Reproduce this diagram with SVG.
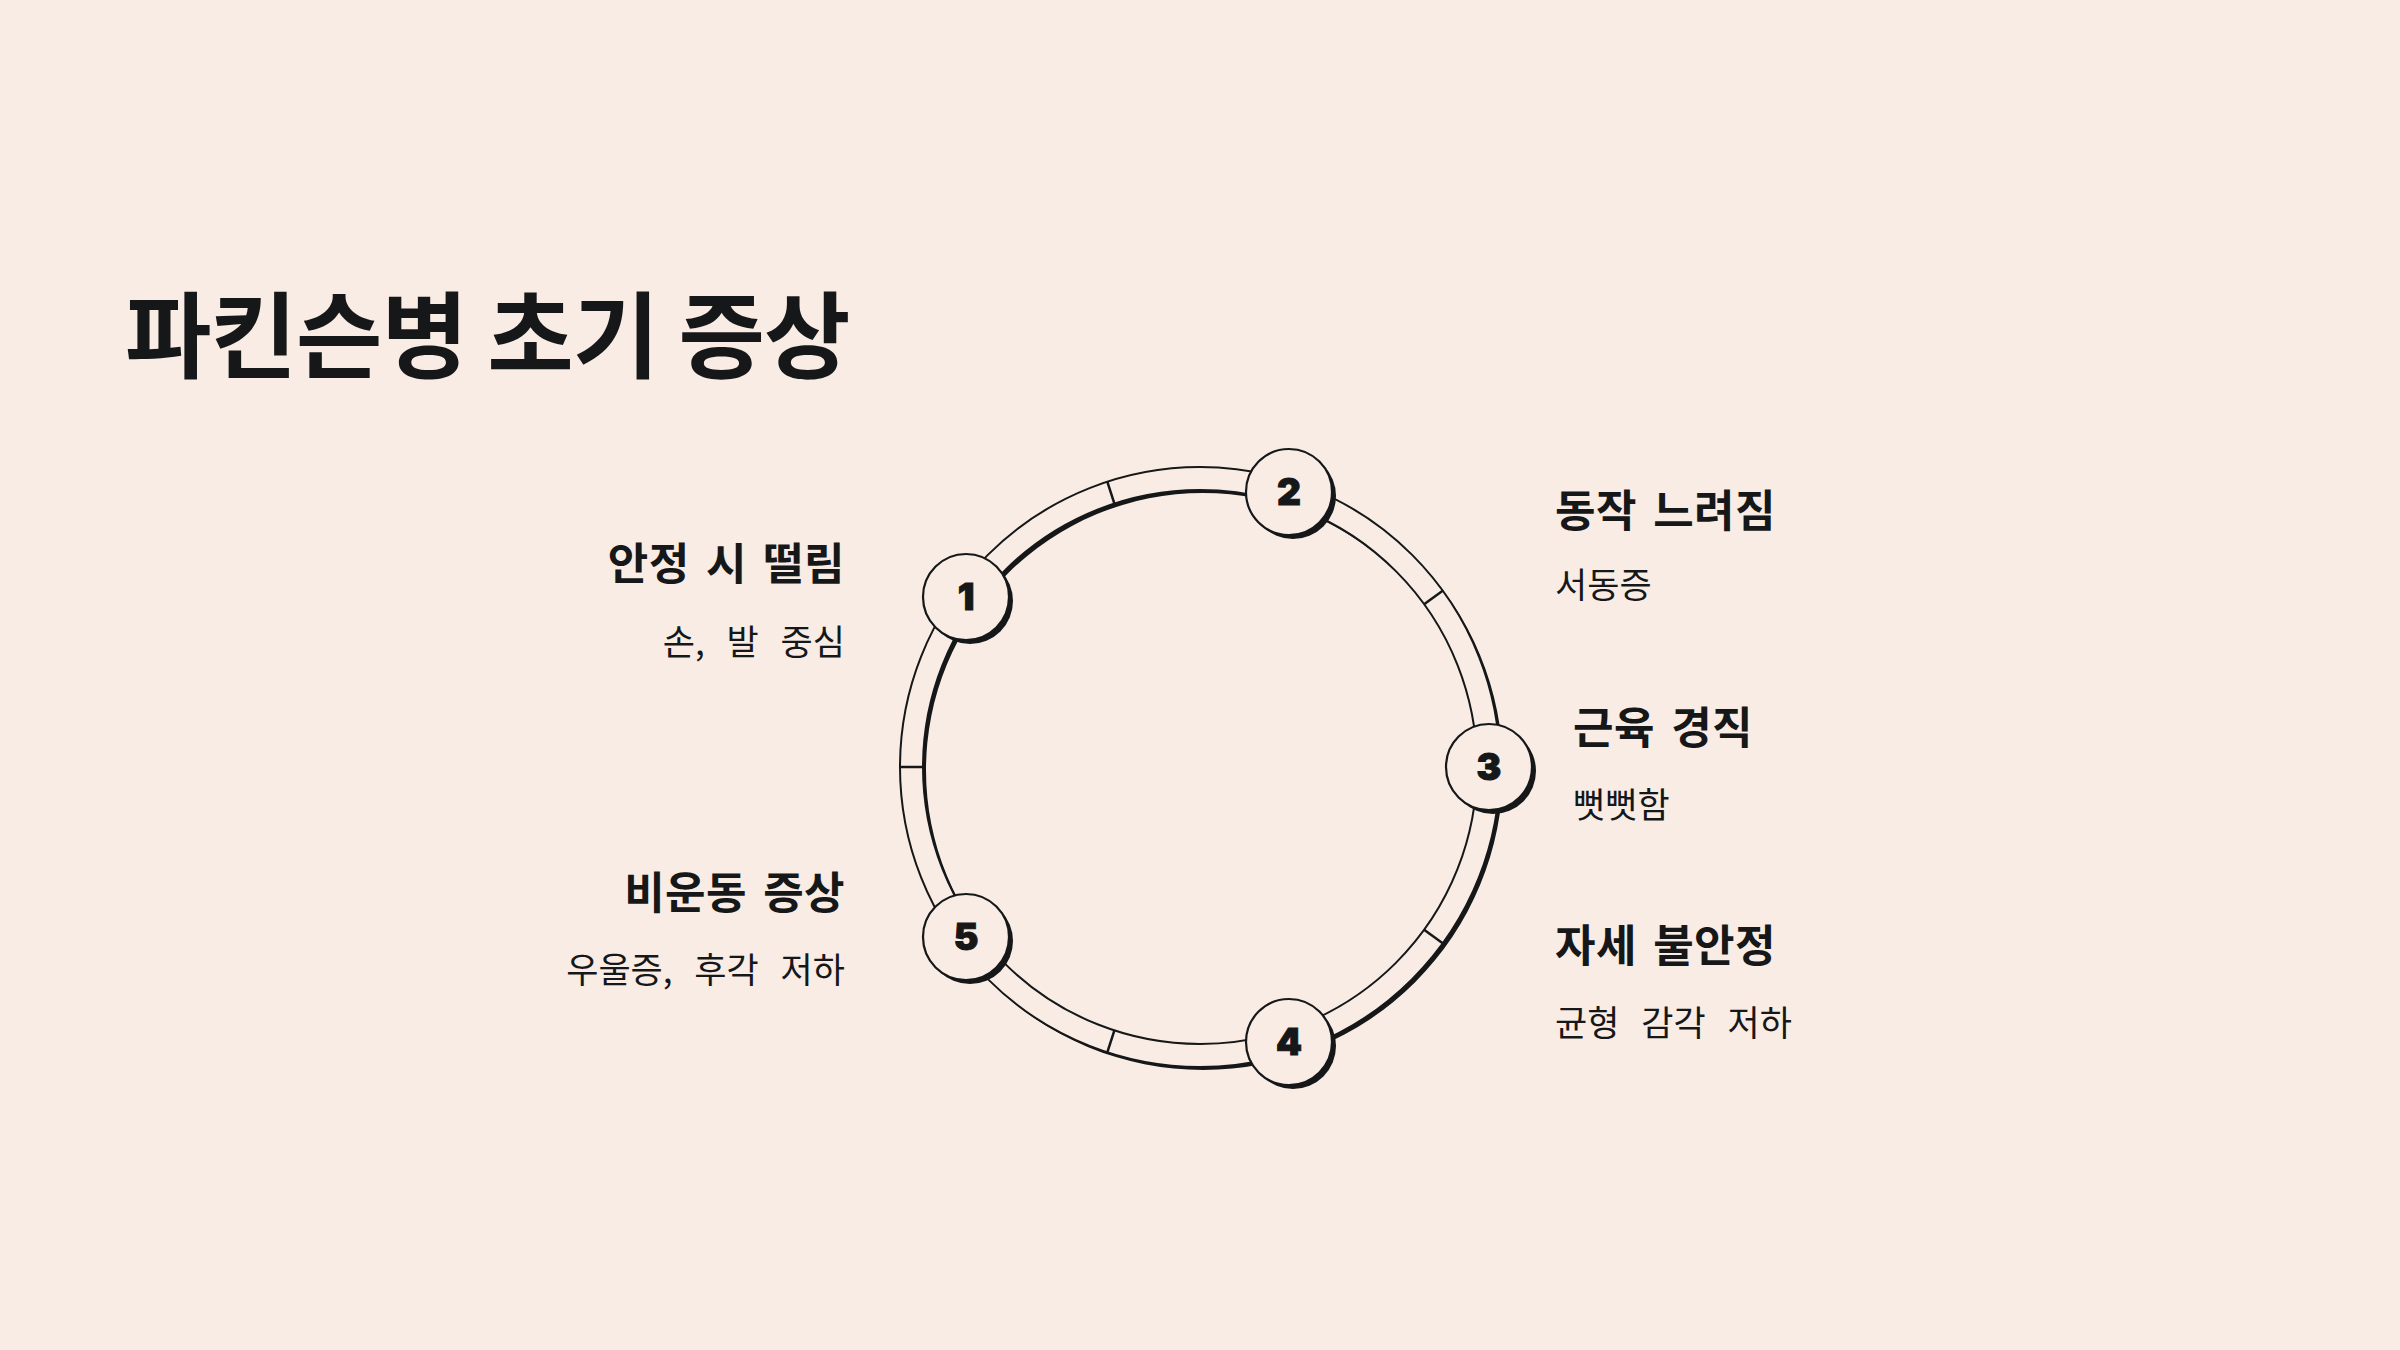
<svg xmlns="http://www.w3.org/2000/svg" width="2400" height="1350" viewBox="0 0 2400 1350">
<defs>
<style>
.bg{fill:#F8ECE5}
.title{font-family:"Noto Sans CJK KR","Noto Sans",sans-serif;font-weight:700;font-size:94px;letter-spacing:-1px;fill:#161718}
.lab{font-family:"Noto Sans CJK KR","Noto Sans",sans-serif;font-weight:700;font-size:44px;letter-spacing:0.4px;word-spacing:6px;fill:#161718}
.sub{font-family:"Noto Sans CJK KR","Noto Sans",sans-serif;font-weight:400;font-size:35px;word-spacing:14px;fill:#161718}
.num{font-family:Inter,"Liberation Sans",sans-serif;font-weight:900;font-size:37px;fill:#161718;text-anchor:middle;stroke:#161718;stroke-width:1}
.disc{fill:#F8ECE5;stroke:#161718;stroke-width:2.2}
.shadow{fill:#161718}
.tick{stroke:#161718;stroke-width:2.5;fill:none}
.end{text-anchor:end}
</style>
<path id="annulus" fill-rule="evenodd" d="M1500 767A300 300 0 1 0 900 767A300 300 0 1 0 1500 767ZM1477 767A277 277 0 1 0 923 767A277 277 0 1 0 1477 767Z"/>
</defs>
<rect width="2400" height="1350" class="bg"/>
<text class="title" x="125" y="371">파킨슨병 초기 증상</text>
<g id="ring">
<use href="#annulus" class="shadow" transform="translate(3 3)"/>
<use href="#annulus" fill="#F8ECE5" stroke="#161718" stroke-width="2"/>
</g>
<g id="connectors">
<line class="tick" x1="900" y1="767" x2="923" y2="767"/>
<line class="tick" x1="1424.1" y1="604.2" x2="1442.7" y2="590.7"/>
<line class="tick" x1="1424.1" y1="929.8" x2="1442.7" y2="943.3"/>
<line class="tick" x1="1114.4" y1="503.6" x2="1107.3" y2="481.7"/>
<line class="tick" x1="1114.4" y1="1030.4" x2="1107.3" y2="1052.3"/>
</g>
<g id="node1">
<circle class="shadow" cx="970" cy="601" r="43"/>
<circle class="disc" cx="966" cy="597" r="43"/>
<text class="num" x="966" y="610">1</text>
<text class="lab end" x="845" y="580">안정 시 떨림</text>
<text class="sub end" x="845" y="655">손, 발 중심</text>
</g>
<g id="node2">
<circle class="shadow" cx="1293" cy="496" r="43"/>
<circle class="disc" cx="1289" cy="492" r="43"/>
<text class="num" x="1289" y="505">2</text>
<text class="lab" x="1555" y="527">동작 느려짐</text>
<text class="sub" x="1555" y="598">서동증</text>
</g>
<g id="node3">
<circle class="shadow" cx="1493" cy="771" r="43"/>
<circle class="disc" cx="1489" cy="767" r="43"/>
<text class="num" x="1489" y="780">3</text>
<text class="lab" x="1573" y="744">근육 경직</text>
<text class="sub" x="1573" y="818">뻣뻣함</text>
</g>
<g id="node4">
<circle class="shadow" cx="1293" cy="1046" r="43"/>
<circle class="disc" cx="1289" cy="1042" r="43"/>
<text class="num" x="1289" y="1055">4</text>
<text class="lab" x="1555" y="962">자세 불안정</text>
<text class="sub" x="1555" y="1036">균형 감각 저하</text>
</g>
<g id="node5">
<circle class="shadow" cx="970" cy="941" r="43"/>
<circle class="disc" cx="966" cy="937" r="43"/>
<text class="num" x="966" y="950">5</text>
<text class="lab end" x="845" y="909">비운동 증상</text>
<text class="sub end" x="845" y="983">우울증, 후각 저하</text>
</g>
</svg>
